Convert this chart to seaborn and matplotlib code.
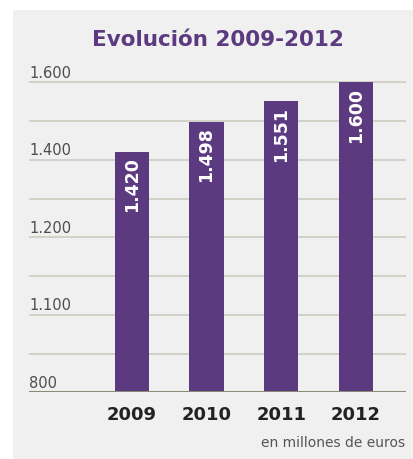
import matplotlib
matplotlib.use('Agg')
import matplotlib.pyplot as plt
import matplotlib.transforms as mtransforms
from matplotlib.patches import Rectangle
import seaborn as sns

years = ['2009', '2010', '2011', '2012']
values = [1420, 1498, 1551, 1600]
ytick_pos = [800, 1000, 1200, 1400, 1600]
ytick_labels = ['800', '1.100', '1.200', '1.400', '1.600']
grid_pos = [900, 1000, 1100, 1200, 1300, 1400, 1500, 1600]

purple = '#5b3a80'
panel = '#f0f0f0'

sns.set_theme(style='white')
plt.rcParams['font.family'] = ['DejaVu Sans']

fig = plt.figure(figsize=(4.14, 4.6), dpi=100)
fig.patch.set_facecolor('white')
fig.patches.append(Rectangle((13 / 414, 0), 1, 1 - 11 / 460, transform=fig.transFigure,
                             facecolor=panel, edgecolor='none', zorder=-10))

ax = fig.add_axes([29 / 414, 0.145, (405.7 - 29) / 414, 0.703])
ax.set_facecolor('none')

sns.barplot(x=years, y=values, color=purple, width=0.46, saturation=1, linewidth=0,
            ax=ax, zorder=3)
ax.set_ylim(800, 1635)
ax.set_xlim(-1.38, 3.67)

for g in grid_pos:
    ax.axhline(g, color='#d2d2c8', lw=1.4, zorder=1)
ax.axhline(800, color='#8a8a78', lw=2.2, zorder=4)

# y labels sit above the gridlines
trans = mtransforms.blended_transform_factory(ax.transAxes, ax.transData)
for p, lbl in zip(ytick_pos, ytick_labels):
    ax.annotate(lbl, (0, p), xycoords=trans, xytext=(0, 2), textcoords='offset points',
                ha='left', va='bottom', fontsize=10.5, color='#4d4d4d')
ax.set_yticks([])

for i, v in enumerate(values):
    lbl = f'{v:,}'.replace(',', '.')
    ax.annotate(lbl, (i, v), xytext=(0, -3), textcoords='offset points', rotation=90,
                ha='center', va='top', color='white', fontsize=12.5, fontweight='bold', zorder=5)

ax.tick_params(axis='x', length=0, pad=9, labelsize=13, labelcolor='#222222')
for t in ax.get_xticklabels():
    t.set_fontweight('bold')
ax.set_xlabel('')
ax.set_ylabel('')
sns.despine(ax=ax, left=True, bottom=True)

fig.text(218 / 414, 1 - 40 / 460, 'Evolución 2009-2012', ha='center', va='center',
         fontsize=15.5, fontweight='bold', color=purple)
fig.text(405 / 414, 1 - 443 / 460, 'en millones de euros', ha='right', va='center',
         fontsize=10, color='#555555')

fig.savefig('out.png', dpi=100, facecolor=fig.get_facecolor())
